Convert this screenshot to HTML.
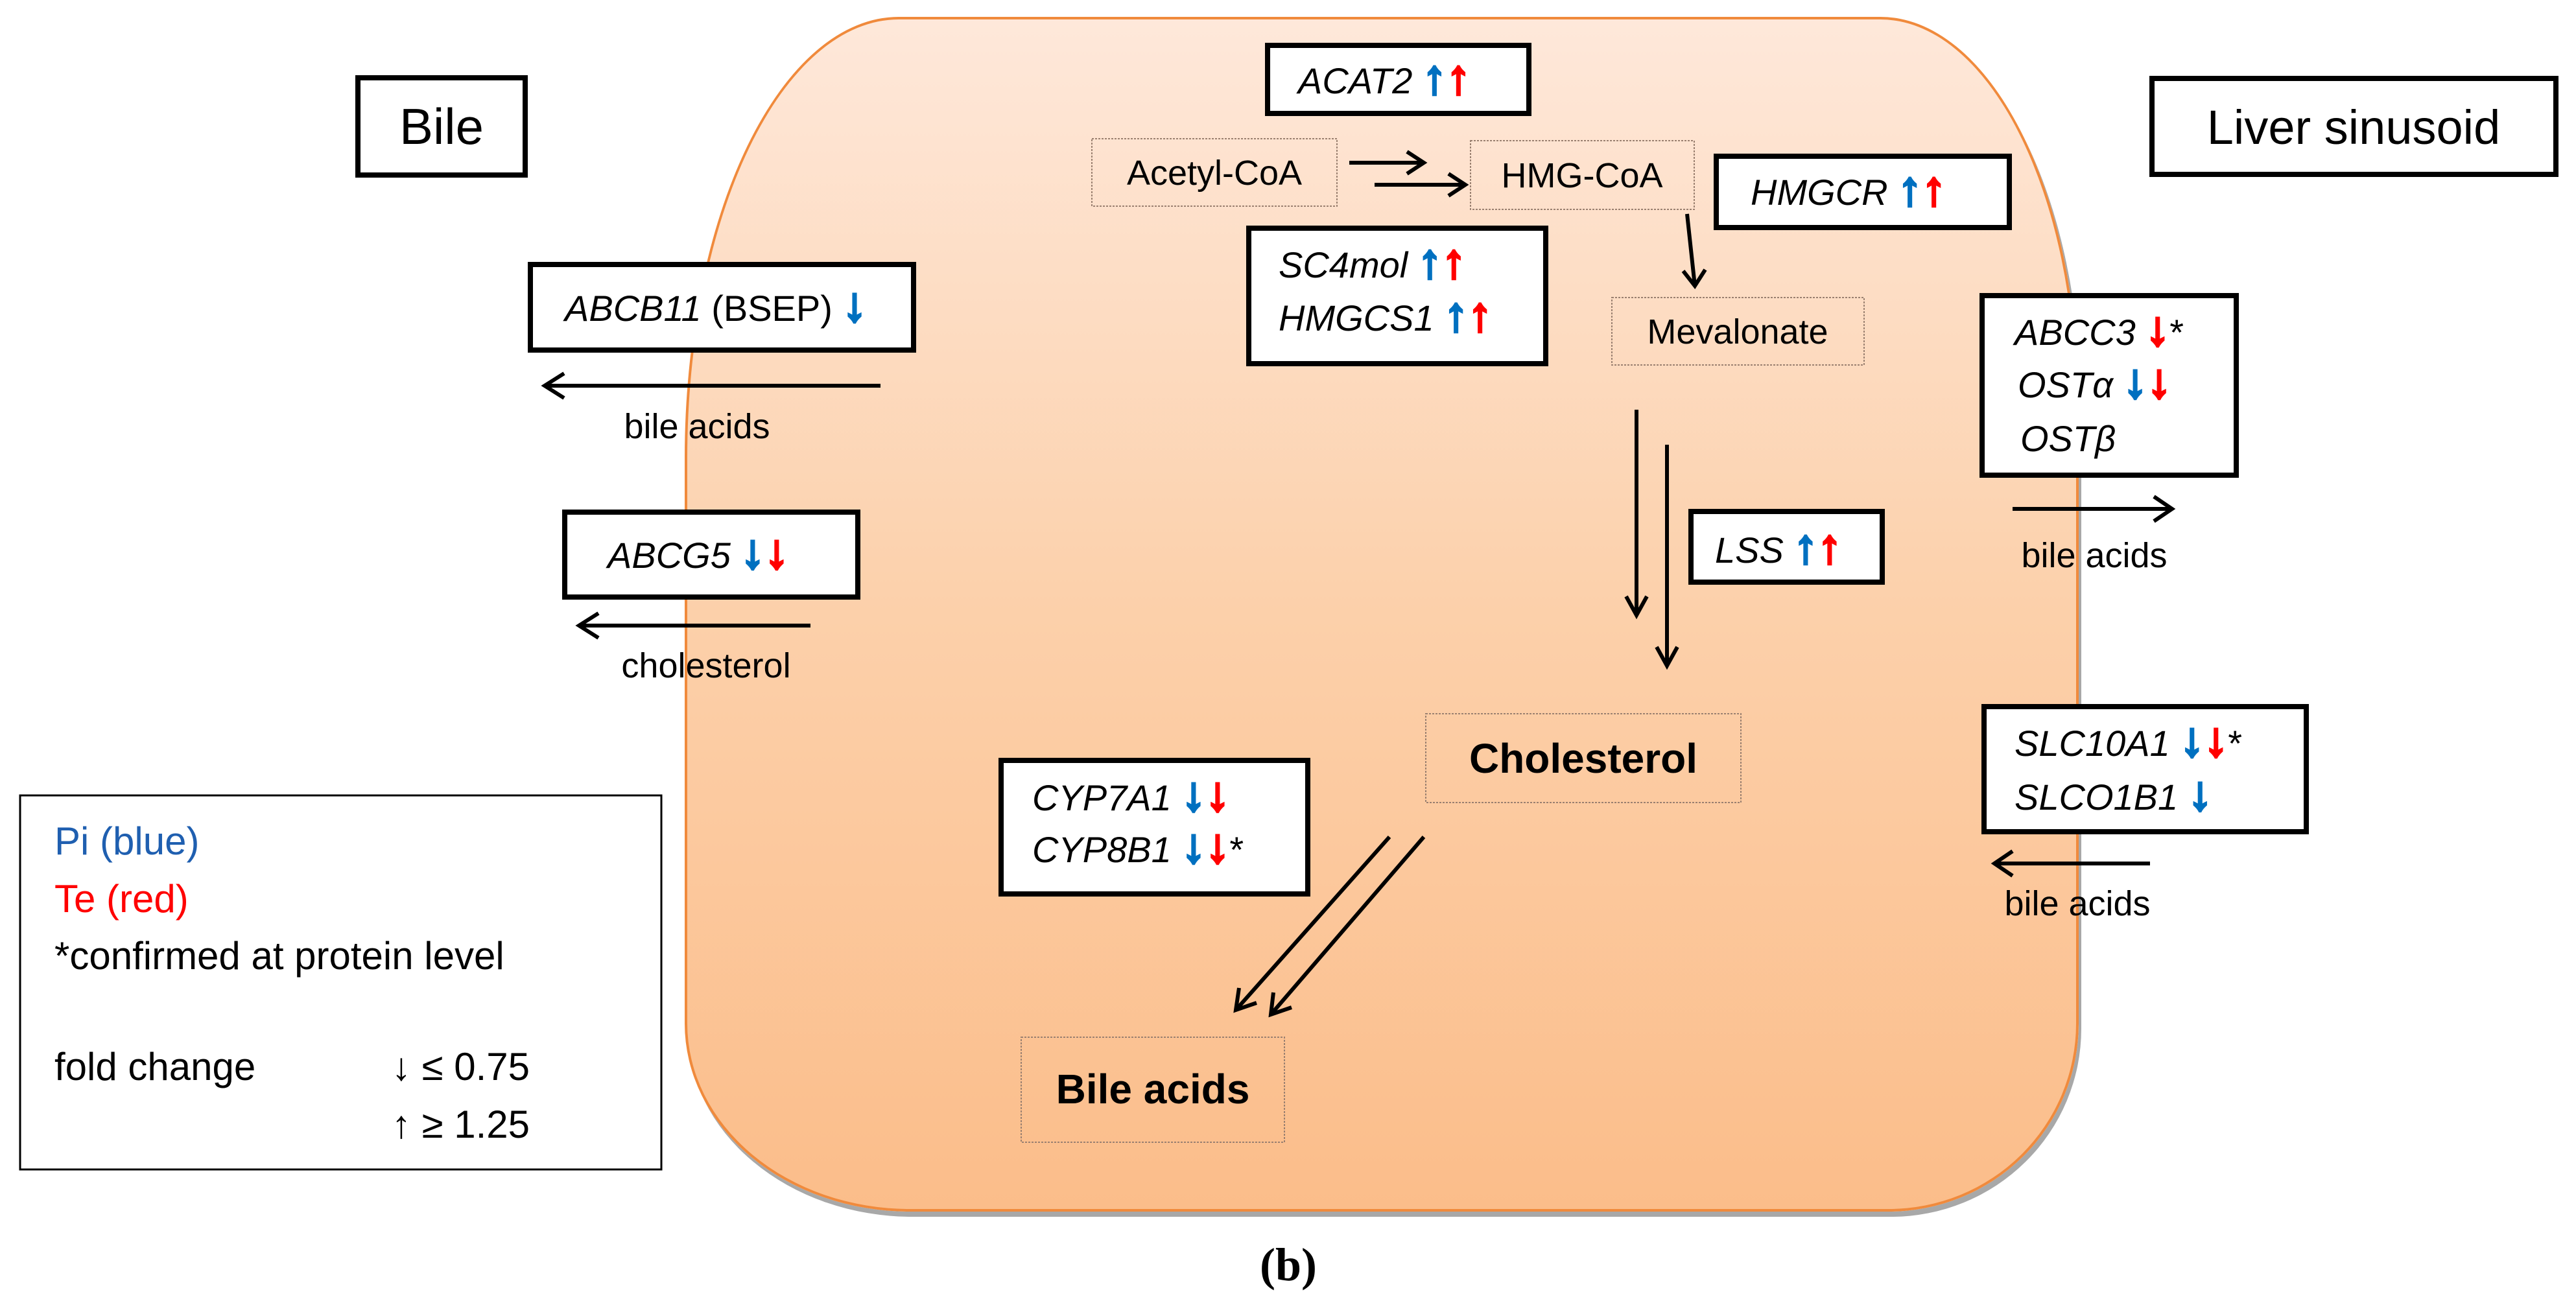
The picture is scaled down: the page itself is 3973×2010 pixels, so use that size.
<!DOCTYPE html>
<html><head><meta charset="utf-8"><style>
html,body{margin:0;padding:0;background:#fff;}
#wrap{position:relative;width:3973px;height:2010px;overflow:hidden;background:#fff;}
#cell{position:absolute;left:1056px;top:26px;width:2150px;height:1843px;box-sizing:border-box;
border:4px solid #f08a3c;border-radius:330px 306px 293px 347px / 680px 600px 290px 290px;
background:linear-gradient(#fee8da,#fcd0aa 50%,#fbbd8a);box-shadow:4px 8px 0 #a8a8a8;}
svg{position:absolute;left:0;top:0;}
text{font-family:"Liberation Sans",sans-serif;}
.g{font-style:italic;}
.b{fill:#0070c0;stroke:#0070c0;stroke-width:4px;font-style:normal;font-size:74px;}
.r{fill:#ff0000;stroke:#ff0000;stroke-width:4px;font-style:normal;font-size:74px;}
</style></head><body><div id="wrap">
<div id="cell"></div>
<svg width="3973" height="2010" viewBox="0 0 3973 2010">
<g fill="#fff" stroke="#000" stroke-width="8">
<rect x="552" y="120" width="258" height="150"/>
<rect x="3319" y="121" width="623" height="148"/>
<rect x="818" y="408" width="591" height="132"/>
<rect x="871" y="790" width="452" height="131"/>
<rect x="1955" y="70" width="403" height="105"/>
<rect x="2647" y="241" width="452" height="110"/>
<rect x="1926" y="352" width="458" height="209"/>
<rect x="3057" y="456" width="392" height="277"/>
<rect x="2608" y="789" width="295" height="109"/>
<rect x="1544" y="1173" width="473" height="206"/>
<rect x="3060" y="1090" width="497" height="193"/>
</g>
<rect x="31" y="1227" width="989" height="577" fill="#fff" stroke="#000" stroke-width="3"/>
<g fill="none" stroke="#9a8070" stroke-width="2" stroke-dasharray="3 2">
<rect x="1684" y="214" width="378" height="104"/>
<rect x="2268" y="217" width="345" height="106"/>
<rect x="2486" y="459" width="389" height="104"/>
<rect x="2199" y="1101" width="486" height="137"/>
<rect x="1575" y="1600" width="406" height="162"/>
</g>
<g fill="none" stroke="#000" stroke-width="6" stroke-linejoin="miter">
<line x1="1358" y1="595" x2="840" y2="595"/><polyline points="870,576 840,595 870,614"/>
<line x1="1250" y1="965" x2="893" y2="965"/><polyline points="923,946 893,965 923,984"/>
<line x1="2081" y1="251" x2="2196" y2="251"/><polyline points="2170,234 2196,251 2170,268"/>
<line x1="2120" y1="285" x2="2260" y2="285"/><polyline points="2234,268 2260,285 2234,302"/>
<line x1="2602" y1="330" x2="2614" y2="441"/><polyline points="2596,418 2614,441 2630,416"/>
<line x1="2524" y1="632" x2="2524" y2="949"/><polyline points="2508,920 2524,949 2540,920"/>
<line x1="2571" y1="686" x2="2571" y2="1027"/><polyline points="2555,998 2571,1027 2587,998"/>
<line x1="3104" y1="785" x2="3350" y2="785"/><polyline points="3322,766 3350,785 3322,804"/>
<line x1="3316" y1="1332" x2="3076" y2="1332"/><polyline points="3104,1313 3076,1332 3104,1351"/>
<line x1="2143" y1="1291" x2="1906" y2="1558"/><polyline points="1911,1524 1906,1558 1938,1547"/>
<line x1="2196" y1="1291" x2="1960" y2="1565"/><polyline points="1964,1531 1960,1565 1992,1554"/>
</g>
<g font-size="78" text-anchor="middle">
<text x="681" y="222">Bile</text>
<text x="3630" y="222" font-size="74">Liver sinusoid</text>
</g>
<g font-size="54" text-anchor="middle" fill="#000">
<text x="1873" y="285">Acetyl-CoA</text>
<text x="2440" y="289">HMG-CoA</text>
<text x="2680" y="530">Mevalonate</text>
<text x="1075" y="676">bile acids</text>
<text x="1089" y="1045">cholesterol</text>
<text x="3230" y="875">bile acids</text>
<text x="3204" y="1412">bile acids</text>
</g>
<g font-size="64" font-weight="bold" text-anchor="middle">
<text x="2442" y="1192">Cholesterol</text>
<text x="1778" y="1702">Bile acids</text>
</g>
<g font-size="56">
<text x="871" y="495"><tspan class="g">ABCB11</tspan> (BSEP) <tspan class="b">↓</tspan></text>
<text x="937" y="876"><tspan class="g">ABCG5</tspan> <tspan class="b">↓</tspan><tspan class="r">↓</tspan></text>
<text x="2002" y="144"><tspan class="g">ACAT2</tspan> <tspan class="b">↑</tspan><tspan class="r">↑</tspan></text>
<text x="2700" y="316"><tspan class="g">HMGCR</tspan> <tspan class="b">↑</tspan><tspan class="r">↑</tspan></text>
<text x="1972" y="428"><tspan class="g">SC4mol</tspan> <tspan class="b">↑</tspan><tspan class="r">↑</tspan></text>
<text x="1972" y="510"><tspan class="g">HMGCS1</tspan> <tspan class="b">↑</tspan><tspan class="r">↑</tspan></text>
<text x="3107" y="532"><tspan class="g">ABCC3</tspan> <tspan class="r">↓</tspan>*</text>
<text x="3112" y="613"><tspan class="g">OSTα</tspan> <tspan class="b">↓</tspan><tspan class="r">↓</tspan></text>
<text x="3116" y="696"><tspan class="g">OSTβ</tspan></text>
<text x="2645" y="868"><tspan class="g">LSS</tspan> <tspan class="b">↑</tspan><tspan class="r">↑</tspan></text>
<text x="1592" y="1250"><tspan class="g">CYP7A1</tspan> <tspan class="b">↓</tspan><tspan class="r">↓</tspan></text>
<text x="1592" y="1330"><tspan class="g">CYP8B1</tspan> <tspan class="b">↓</tspan><tspan class="r">↓</tspan>*</text>
<text x="3107" y="1166"><tspan class="g">SLC10A1</tspan> <tspan class="b">↓</tspan><tspan class="r">↓</tspan>*</text>
<text x="3107" y="1249"><tspan class="g">SLCO1B1</tspan> <tspan class="b">↓</tspan></text>
</g>
<g font-size="60">
<text x="84" y="1318" fill="#1f5fb0">Pi (blue)</text>
<text x="84" y="1407" fill="#ff0000">Te (red)</text>
<text x="84" y="1495">*confirmed at protein level</text>
<text x="84" y="1666">fold change</text>
<text x="604" y="1666">↓ ≤ 0.75</text>
<text x="604" y="1755">↑ ≥ 1.25</text>
</g>
<text x="1987" y="1975" font-size="72" font-weight="bold" text-anchor="middle" style="font-family:'Liberation Serif',serif">(b)</text>
</svg>
</div></body></html>
